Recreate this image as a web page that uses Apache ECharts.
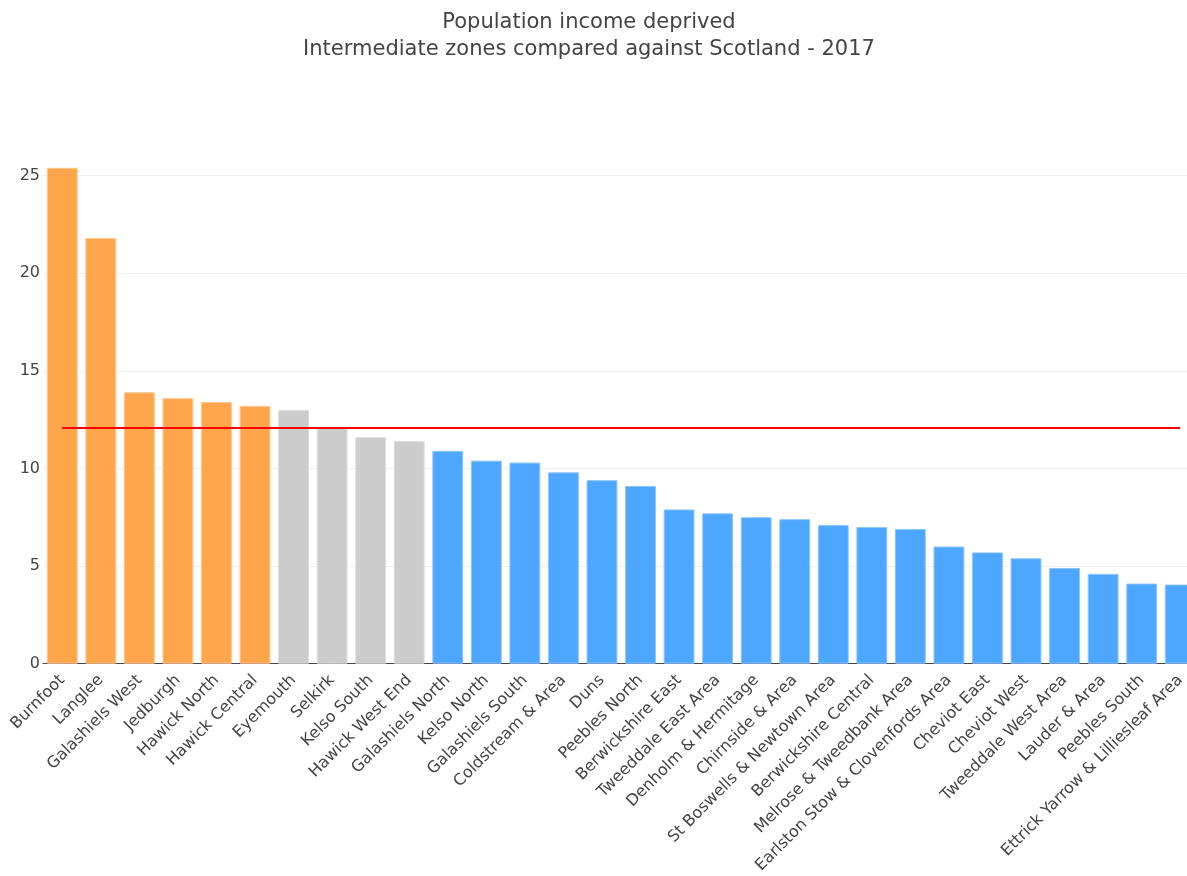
<!DOCTYPE html>
<html>
<head>
<meta charset="utf-8">
<script src="https://cdn.jsdelivr.net/npm/echarts@6/dist/echarts.min.js"></script>
<style>
html,body{margin:0;padding:0;background:#fff;overflow:hidden;}
#chart{width:1200px;height:876px;}
</style>
</head>
<body>
<div id="chart"></div>
<script>
var titleText = 'Population income deprived\nIntermediate zones compared against Scotland - 2017';
var categories = ['Burnfoot','Langlee','Galashiels West','Jedburgh','Hawick North','Hawick Central','Eyemouth','Selkirk','Kelso South','Hawick West End','Galashiels North','Kelso North','Galashiels South','Coldstream & Area','Duns','Peebles North','Berwickshire East','Tweeddale East Area','Denholm & Hermitage','Chirnside & Area','St Boswells & Newtown Area','Berwickshire Central','Melrose & Tweedbank Area','Earlston Stow & Clovenfords Area','Cheviot East','Cheviot West','Tweeddale West Area','Lauder & Area','Peebles South','Ettrick Yarrow & Lilliesleaf Area'];
var values = [25.4,21.8,13.9,13.6,13.4,13.2,13.0,12.1,11.6,11.4,10.9,10.4,10.3,9.8,9.4,9.1,7.9,7.7,7.5,7.4,7.1,7.0,6.9,6.0,5.7,5.4,4.9,4.6,4.1,4.05];
var groups = ['higher','higher','higher','higher','higher','higher','similar','similar','similar','similar','lower','lower','lower','lower','lower','lower','lower','lower','lower','lower','lower','lower','lower','lower','lower','lower','lower','lower','lower','lower'];
var scotland = 12.1;
var yTicks = [0,5,10,15,20,25];

var fillColors = {higher:'#FFA64D', similar:'#CCCCCC', lower:'#4DA6FF'};
var edgeColors = {higher:'#FFC58C', similar:'#DDDDDD', lower:'#8CC5FF'};

var chart = echarts.init(document.getElementById('chart'));
chart.setOption({
  animation:false,
  title:{
    text:titleText,
    left:584,
    textAlign:'center',
    top:4,
    textStyle:{fontFamily:'DejaVu Sans',fontSize:21,fontWeight:'normal',color:'#444',lineHeight:27}
  },
  grid:{left:43,top:78,right:0.5,height:588},
  xAxis:{
    type:'category',
    data:categories,
    axisLine:{lineStyle:{color:'#444',width:1}},
    axisTick:{show:false},
    axisLabel:{rotate:45,interval:0,margin:14,fontFamily:'DejaVu Sans',fontSize:16,color:'#444'}
  },
  yAxis:{
    type:'value',
    min:0,max:30,interval:5,
    axisLine:{show:false},
    axisTick:{show:false},
    axisLabel:{margin:3,fontFamily:'DejaVu Sans',fontSize:16,color:'#444',showMaxLabel:false,
      formatter:function(v){return yTicks.indexOf(v)>=0?String(v):'';}},
    splitLine:{lineStyle:{color:['#eeeeee','#eeeeee','#eeeeee','#eeeeee','#eeeeee','#eeeeee','rgba(0,0,0,0)'],width:1}}
  },
  series:[{
    type:'bar',
    barCategoryGap:'20%',
    data:values.map(function(v,i){
      return {value:v,itemStyle:{color:fillColors[groups[i]],borderColor:edgeColors[groups[i]],borderWidth:1}};
    }),
    markLine:{
      silent:true,
      symbol:['none','none'],
      label:{show:false},
      lineStyle:{color:'#FF0000',width:2,type:'solid'},
      data:[[{coord:[categories[0],scotland]},{coord:[categories[categories.length-1],scotland]}]]
    }
  }]
});
</script>
</body>
</html>
